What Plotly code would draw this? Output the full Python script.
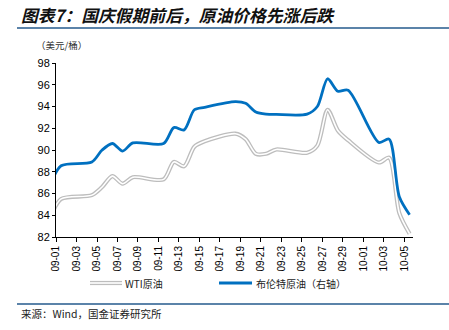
import plotly.graph_objects as go

# ---------------- data ----------------
dates = ["2023-08-31", "2023-09-01", "2023-09-04", "2023-09-05", "2023-09-06", "2023-09-07", "2023-09-08",
         "2023-09-11", "2023-09-12", "2023-09-13", "2023-09-14", "2023-09-15",
         "2023-09-18", "2023-09-19", "2023-09-20", "2023-09-21", "2023-09-22",
         "2023-09-25", "2023-09-26", "2023-09-27", "2023-09-28", "2023-09-29",
         "2023-10-02", "2023-10-03", "2023-10-04", "2023-10-05"]
wti = [83.9, 85.5, 85.85, 86.6, 87.6, 86.9, 87.5,
       87.3, 88.9, 88.5, 90.3, 90.8,
       91.5, 91.0, 89.65, 89.65, 90.05,
       89.75, 90.4, 93.7, 91.8, 90.9,
       88.85, 89.3, 84.2, 82.3]
brent = [86.9, 88.55, 88.9, 90.0, 90.6, 89.9, 90.65,
         90.6, 92.06, 91.85, 93.7, 93.93,
         94.45, 94.3, 93.5, 93.3, 93.27,
         93.3, 94.0, 96.55, 95.4, 95.5,
         90.7, 91.0, 85.7, 84.05]
y_ticks = [82, 84, 86, 88, 90, 92, 94, 96, 98]

title_text = "图表7：国庆假期前后，原油价格先涨后跌"
unit_text = "（美元/桶）"
source_text = "来源：Wind，国金证券研究所"
wti_name = "WTI原油"
brent_name = "布伦特原油（右轴）"

# ---------------- layout geometry ----------------
W, H = 449, 330
L, R, T, B = 56, 36, 63, 93
PW, PH = W - L - R, H - T - B

def fx(px):
    return (px - L) / PW

def fy(py):
    return (H - B - py) / PH

CJK = "Noto Sans CJK SC"
NUM = "Liberation Sans, Arial, sans-serif"
BLUE = "#0070C0"
GRAY = "#BDBDBD"
RULE = "#245A8D"
DAY = 86400000

fig = go.Figure()
common = dict(x=dates, xperiod=DAY, xperiodalignment="middle", mode="lines",
              showlegend=False, hoverinfo="skip")
fig.add_trace(go.Scatter(y=wti, line=dict(color=GRAY, width=4.2, shape="spline", smoothing=0.8), **common))
fig.add_trace(go.Scatter(y=wti, line=dict(color="white", width=1.6, shape="spline", smoothing=0.8), **common))
fig.add_trace(go.Scatter(y=brent, line=dict(color=BLUE, width=2.8, shape="spline", smoothing=0.8), **common))

shapes = [
    dict(type="line", xref="paper", yref="paper", x0=fx(17), x1=fx(449), y0=fy(28), y1=fy(28),
         line=dict(color=RULE, width=1.6)),
    dict(type="line", xref="paper", yref="paper", x0=fx(17), x1=fx(449), y0=fy(304), y1=fy(304),
         line=dict(color=RULE, width=1.6)),
    # legend swatches
    dict(type="line", xref="paper", yref="paper", x0=fx(90), x1=fx(122), y0=fy(283), y1=fy(283),
         line=dict(color=GRAY, width=4.2)),
    dict(type="line", xref="paper", yref="paper", x0=fx(90), x1=fx(122), y0=fy(283), y1=fy(283),
         line=dict(color="white", width=1.6)),
    dict(type="line", xref="paper", yref="paper", x0=fx(219), x1=fx(252), y0=fy(283), y1=fy(283),
         line=dict(color=BLUE, width=2.8)),
]

annotations = [
    dict(text="<b><i>" + title_text + "</i></b>", x=fx(19), y=fy(15), xref="paper", yref="paper",
         xanchor="left", yanchor="middle", showarrow=False, font=dict(family=CJK, size=16.8, color="#111")),
    dict(text=unit_text, x=fx(34), y=fy(45), xref="paper", yref="paper",
         xanchor="left", yanchor="middle", showarrow=False, font=dict(family=CJK, size=9.5, color="#333")),
    dict(text=wti_name, x=fx(123), y=fy(283), xref="paper", yref="paper",
         xanchor="left", yanchor="middle", showarrow=False, font=dict(family=CJK, size=10, color="#222")),
    dict(text=brent_name, x=fx(254), y=fy(283), xref="paper", yref="paper",
         xanchor="left", yanchor="middle", showarrow=False, font=dict(family=CJK, size=10, color="#222")),
    dict(text=source_text, x=fx(19), y=fy(313), xref="paper", yref="paper",
         xanchor="left", yanchor="middle", showarrow=False, font=dict(family=CJK, size=10.5, color="#222")),
]

fig.update_layout(
    width=W, height=H, margin=dict(l=L, r=R, t=T, b=B),
    paper_bgcolor="white", plot_bgcolor="white",
    shapes=shapes, annotations=annotations,
    xaxis=dict(type="date", range=["2023-09-01", "2023-10-05 20:00"],
               tick0="2023-09-01", dtick=2 * DAY, tickformat="%m-%d", tickangle=-90,
               ticks="outside", ticklen=4, tickcolor="#000", showline=True, linecolor="#000",
               linewidth=1, showgrid=False, zeroline=False,
               tickfont=dict(family=NUM, size=10, color="#000")),
    yaxis=dict(range=[82, 98], tickvals=y_ticks, ticks="outside", ticklen=3, tickcolor="#000",
               showline=True, linecolor="#000", linewidth=1, showgrid=False, zeroline=False,
               tickfont=dict(family=NUM, size=11, color="#000")),
)

fig.write_html("out.html")
